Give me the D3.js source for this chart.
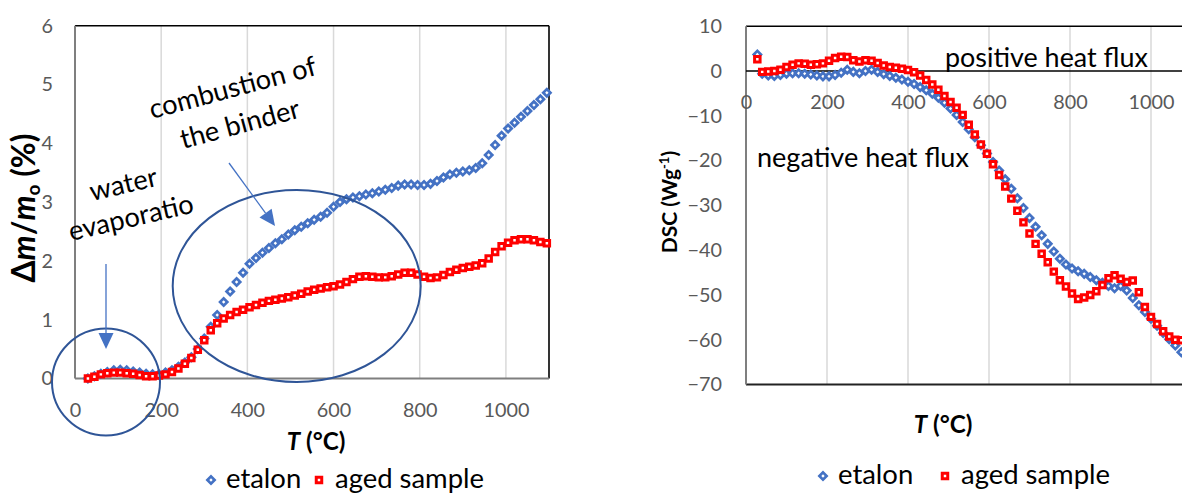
<!DOCTYPE html>
<html><head><meta charset="utf-8">
<script src="https://cdn.jsdelivr.net/npm/d3@7"></script>
<style>html,body{margin:0;padding:0;background:#fff;overflow:hidden}</style>
</head><body>
<svg id="c" width="1182" height="495"></svg>
<script>
// ---------- data ----------
const seriesNames = ["etalon", "aged sample"];
const xTickValues = [0, 200, 400, 600, 800, 1000];
const tgaYTicks = [0, 1, 2, 3, 4, 5, 6];
const dscYTicks = [10, 0, -10, -20, -30, -40, -50, -60, -70];

// TGA (left): temperature in °C, mass change in %
const tgaTemps = [30,45,60,75,90,105,120,135,150,165,180,195,210,225,240,255,270,285,300,315,330,345,360,375,390,405,420,435,450,465,480,495,510,525,540,555,570,585,600,615,630,645,660,675,690,705,720,735,750,765,780,795,810,825,840,855,870,885,900,915,930,945,960,975,990,1005,1020,1035,1050,1065,1080,1095];
const tgaEtalon = [0.00,0.04,0.08,0.11,0.14,0.15,0.14,0.12,0.10,0.08,0.07,0.07,0.10,0.14,0.20,0.27,0.36,0.50,0.68,0.88,1.08,1.30,1.48,1.64,1.80,1.95,2.05,2.14,2.22,2.30,2.37,2.45,2.52,2.58,2.64,2.70,2.75,2.82,2.92,3.00,3.05,3.08,3.10,3.13,3.15,3.18,3.21,3.24,3.28,3.30,3.30,3.29,3.29,3.31,3.36,3.42,3.47,3.50,3.52,3.54,3.58,3.66,3.80,3.97,4.13,4.25,4.35,4.45,4.55,4.65,4.75,4.86];
const tgaAged = [0.00,0.03,0.07,0.09,0.10,0.10,0.09,0.08,0.06,0.04,0.04,0.05,0.07,0.11,0.17,0.25,0.35,0.49,0.65,0.82,0.94,1.02,1.08,1.13,1.17,1.21,1.25,1.29,1.32,1.34,1.36,1.38,1.41,1.44,1.48,1.51,1.53,1.55,1.57,1.60,1.64,1.69,1.73,1.74,1.73,1.72,1.72,1.74,1.77,1.80,1.80,1.77,1.73,1.71,1.72,1.76,1.81,1.85,1.88,1.90,1.92,1.96,2.04,2.15,2.25,2.31,2.35,2.37,2.37,2.35,2.32,2.30];

// DSC (right): temperature in °C, heat flow in W/g
const dscTemps = [28,40,55,70,85,100,115,130,145,160,175,190,205,220,235,250,265,280,295,310,325,340,355,370,385,400,415,430,445,460,475,490,505,520,535,550,565,580,595,610,625,640,655,670,685,700,715,730,745,760,775,790,805,820,835,850,865,880,895,910,925,940,955,970,985,1000,1015,1030,1045,1060,1075];
const dscEtalon = [3.7,-0.6,-1.0,-1.1,-0.9,-0.6,-0.5,-0.5,-0.6,-0.8,-1.0,-1.2,-1.2,-0.9,-0.4,0.3,-0.2,-0.5,0.0,0.3,-0.2,-0.7,-1.1,-1.5,-1.9,-2.4,-2.9,-3.6,-4.3,-5.1,-6.0,-7.1,-8.4,-9.8,-11.4,-13.0,-14.8,-16.6,-18.4,-20.3,-22.2,-24.2,-26.3,-28.4,-30.6,-32.8,-34.8,-36.7,-38.6,-40.3,-41.9,-43.2,-44.1,-44.7,-45.3,-46.0,-46.7,-47.3,-48.0,-48.5,-48.0,-49.0,-50.7,-52.3,-53.8,-55.3,-56.9,-58.5,-59.9,-61.3,-62.8];
const dscAged = [2.6,-0.2,-0.1,0.0,0.3,0.9,1.4,1.7,1.6,1.4,1.5,1.7,2.3,2.9,3.2,3.1,2.4,2.1,2.4,2.3,1.8,1.2,0.9,0.7,0.5,0.2,-0.3,-1.0,-2.0,-3.0,-4.2,-5.6,-6.9,-8.2,-9.8,-12.0,-14.2,-16.4,-18.5,-20.8,-23.2,-25.8,-28.5,-31.2,-33.8,-36.3,-38.6,-40.8,-42.7,-44.8,-46.7,-48.1,-49.7,-50.9,-50.6,-50.0,-49.2,-47.8,-46.3,-45.6,-46.4,-47.1,-46.8,-49.4,-52.7,-54.9,-56.5,-58.1,-59.3,-60.0,-60.1];

// ---------- setup ----------
const svg = d3.select('#c');
const FONT = 'Lato, Carlito, "Open Sans", sans-serif';
const TICK_COLOR = '#595959';
const BLUE = '#4472c4', RED = '#ff0000', ANNO = '#2f5597';

function measure(text, weight) {
  const t = svg.append('text').attr('font-family', FONT).attr('font-size', 100)
    .attr('font-weight', weight || 'normal').text(text);
  const w = t.node().getComputedTextLength(); t.remove(); return w;
}
function sizeFor(text, width, weight) { return 100 * width / measure(text, weight); }

const tickSize = sizeFor('1000', 46);
const legendSize = sizeFor('aged sample', 149);
const annoSize = sizeFor('combustion of', 172);
const titleSize = sizeFor('T (°C)', 59, 'bold');

const squarePath = d3.symbol(d3.symbolSquare, 30)();
const diamondPath = d3.symbol(d3.symbolSquare, 26)();
const SQ_W = 3, DIA_W = 2.7;

function drawSeries(g, xs, ys, temps, vals, kind) {
  const pts = temps.map((t, i) => [t, vals[i]]);
  g.append('g').selectAll('path').data(pts).join('path')
    .attr('d', kind === 'dia' ? diamondPath : squarePath)
    .attr('transform', d => `translate(${xs(d[0])},${ys(d[1])})` + (kind === 'dia' ? ' rotate(45)' : ''))
    .attr('fill', '#fff')
    .attr('stroke', kind === 'dia' ? BLUE : RED)
    .attr('stroke-width', kind === 'dia' ? DIA_W : SQ_W);
}

function styleTicks(axisG) {
  axisG.select('.domain').remove();
  axisG.selectAll('text').attr('font-family', FONT).attr('font-size', tickSize).attr('fill', TICK_COLOR);
}

function legend(x0, y0, agedX) {
  const g = svg.append('g');
  g.append('path').attr('d', diamondPath).attr('transform', `translate(${x0},${y0}) rotate(45)`)
    .attr('fill', '#fff').attr('stroke', BLUE).attr('stroke-width', DIA_W);
  g.append('text').attr('x', x0 + 15).attr('y', y0 + 8).attr('font-family', FONT).attr('font-size', legendSize)
    .attr('fill', '#000').text(seriesNames[0]);
  g.append('path').attr('d', squarePath).attr('transform', `translate(${agedX},${y0})`)
    .attr('fill', '#fff').attr('stroke', RED).attr('stroke-width', SQ_W);
  g.append('text').attr('x', agedX + 16).attr('y', y0 + 8).attr('font-family', FONT).attr('font-size', legendSize)
    .attr('fill', '#000').text(seriesNames[1]);
}

function xTitle(cx, baseline) {
  const t = svg.append('text').attr('x', cx).attr('y', baseline).attr('text-anchor', 'middle')
    .attr('font-family', FONT).attr('font-size', titleSize).attr('font-weight', 'bold').attr('fill', '#000');
  t.append('tspan').attr('font-style', 'italic').text('T');
  t.append('tspan').text(' (°C)');
}

// ---------- left chart (TGA) ----------
const xL = d3.scaleLinear().domain([0, 1100]).range([75, 549]);
const yL = d3.scaleLinear().domain([0, 6]).range([378.5, 25.7]);
const gL = svg.append('g');

gL.append('g').selectAll('line').data(xTickValues.filter(d => d > 0)).join('line')
  .attr('x1', d => xL(d)).attr('x2', d => xL(d)).attr('y1', yL(6)).attr('y2', yL(0))
  .attr('stroke', '#d9d9d9').attr('stroke-width', 1.5);

gL.append('line').attr('x1', xL(0)).attr('x2', xL(1100)).attr('y1', yL(6)).attr('y2', yL(6)).attr('stroke', '#000').attr('stroke-width', 1.6);
gL.append('line').attr('x1', xL(1100)).attr('x2', xL(1100)).attr('y1', yL(6)).attr('y2', yL(0)).attr('stroke', '#000').attr('stroke-width', 1.6);
gL.append('line').attr('x1', xL(0)).attr('x2', xL(0)).attr('y1', yL(6)).attr('y2', yL(0)).attr('stroke', '#7f7f7f').attr('stroke-width', 2);
gL.append('line').attr('x1', xL(0)).attr('x2', xL(1100)).attr('y1', yL(0)).attr('y2', yL(0)).attr('stroke', '#7f7f7f').attr('stroke-width', 2);

styleTicks(gL.append('g').attr('transform', `translate(${xL(0)},0)`)
  .call(d3.axisLeft(yL).tickValues(tgaYTicks).tickSize(0).tickPadding(22).tickFormat(d3.format('d'))));
styleTicks(gL.append('g').attr('transform', `translate(0,${yL(0)})`)
  .call(d3.axisBottom(xL).tickValues(xTickValues).tickSize(0).tickPadding(410 - 378.5 - 0.36 * tickSize).tickFormat(d3.format('d'))));

drawSeries(gL, xL, yL, tgaTemps, tgaEtalon, 'dia');
drawSeries(gL, xL, yL, tgaTemps, tgaAged, 'sq');

// y title
{
  const s = sizeFor('Δm/m (%)', 140, 'bold');
  const t = svg.append('text').attr('transform', 'translate(35,208) rotate(-90)').attr('text-anchor', 'middle')
    .attr('font-family', FONT).attr('font-size', s).attr('font-weight', 'bold').attr('fill', '#000');
  t.append('tspan').text('Δ');
  t.append('tspan').attr('font-style', 'italic').text('m');
  t.append('tspan').text('/');
  t.append('tspan').attr('font-style', 'italic').text('m');
  t.append('tspan').attr('font-size', s * 0.6).attr('dy', s * 0.15).text('o');
  t.append('tspan').attr('dy', -s * 0.15).text(' (%)');
}
xTitle(316, 450);
legend(211, 480, 319);

// annotations (left)
svg.append('ellipse').attr('cx', 106).attr('cy', 382).attr('rx', 54).attr('ry', 53.5)
  .attr('fill', 'none').attr('stroke', ANNO).attr('stroke-width', 2);
svg.append('ellipse').attr('cx', 296.7).attr('cy', 286).attr('rx', 124).attr('ry', 96)
  .attr('fill', 'none').attr('stroke', ANNO).attr('stroke-width', 2);

function arrow(x1, y1, x2, y2) {
  const dx = x2 - x1, dy = y2 - y1, L = Math.hypot(dx, dy), ux = dx / L, uy = dy / L;
  const hl = 16, hw = 7.5;
  const bx = x2 - ux * hl, by = y2 - uy * hl;
  svg.append('line').attr('x1', x1).attr('y1', y1).attr('x2', bx).attr('y2', by).attr('stroke', BLUE).attr('stroke-width', 1.3);
  svg.append('path').attr('d', `M${x2},${y2}L${bx - uy * hw},${by + ux * hw}L${bx + uy * hw},${by - ux * hw}Z`).attr('fill', BLUE);
}
arrow(106, 264, 106, 349);
arrow(229, 163, 275, 226);

function annoText(txt, x, y, rot) {
  svg.append('text').attr('x', x).attr('y', y).attr('transform', `rotate(${rot},${x},${y})`)
    .attr('font-family', FONT).attr('font-size', annoSize).attr('fill', '#000').text(txt);
}
annoText('combustion of', 152, 119, -15);
annoText('the binder', 183, 149, -15);
annoText('water', 92, 201, -13);
annoText('evaporatio', 71, 241, -13);

// ---------- right chart (DSC) ----------
const xR = d3.scaleLinear().domain([0, 1200]).range([746, 1232]);
const yR = d3.scaleLinear().domain([-70, 10]).range([384.5, 26.2]);
const gR = svg.append('g');

gR.append('g').selectAll('line').data([200, 400, 600, 800, 1000, 1200]).join('line')
  .attr('x1', d => xR(d)).attr('x2', d => xR(d)).attr('y1', yR(10)).attr('y2', yR(-70))
  .attr('stroke', '#d9d9d9').attr('stroke-width', 1.5);
gR.append('line').attr('x1', xR(0)).attr('x2', xR(1200)).attr('y1', yR(10)).attr('y2', yR(10)).attr('stroke', '#000').attr('stroke-width', 1.6);
gR.append('line').attr('x1', xR(0)).attr('x2', xR(1200)).attr('y1', yR(-70)).attr('y2', yR(-70)).attr('stroke', '#222').attr('stroke-width', 2.2);
gR.append('line').attr('x1', xR(0)).attr('x2', xR(0)).attr('y1', yR(10)).attr('y2', yR(-70)).attr('stroke', '#7f7f7f').attr('stroke-width', 2);
gR.append('line').attr('x1', xR(0)).attr('x2', xR(1200)).attr('y1', yR(0)).attr('y2', yR(0)).attr('stroke', '#000').attr('stroke-width', 1.6);

styleTicks(gR.append('g').attr('transform', `translate(${xR(0) - 24},0)`)
  .call(d3.axisLeft(yR).tickValues(dscYTicks).tickSize(0).tickPadding(0).tickFormat(d3.format('d'))));
styleTicks(gR.append('g').attr('transform', `translate(0,${yR(0)})`)
  .call(d3.axisBottom(xR).tickValues(xTickValues).tickSize(0).tickPadding(102.5 - 71 - 0.36 * tickSize).tickFormat(d3.format('d'))));

drawSeries(gR, xR, yR, dscTemps, dscEtalon, 'dia');
drawSeries(gR, xR, yR, dscTemps, dscAged, 'sq');

{
  const s = sizeFor('DSC (Wg-1)', 110, 'bold');
  const t = svg.append('text').attr('transform', 'translate(677,202) rotate(-90)').attr('text-anchor', 'middle')
    .attr('font-family', FONT).attr('font-size', s).attr('font-weight', 'bold').attr('fill', '#000');
  t.append('tspan').text('DSC (Wg');
  t.append('tspan').attr('font-size', s * 0.62).attr('dy', -s * 0.38).text('-1');
  t.append('tspan').attr('dy', s * 0.38).text(')');
}
xTitle(943, 433);
legend(823, 476, 945);

svg.append('text').attr('x', 945).attr('y', 67).attr('font-family', FONT).attr('font-size', sizeFor('positive heat flux', 203))
  .attr('fill', '#000').text('positive heat flux');
svg.append('text').attr('x', 757).attr('y', 167).attr('font-family', FONT).attr('font-size', sizeFor('negative heat flux', 212))
  .attr('fill', '#000').text('negative heat flux');
</script>
</body></html>
